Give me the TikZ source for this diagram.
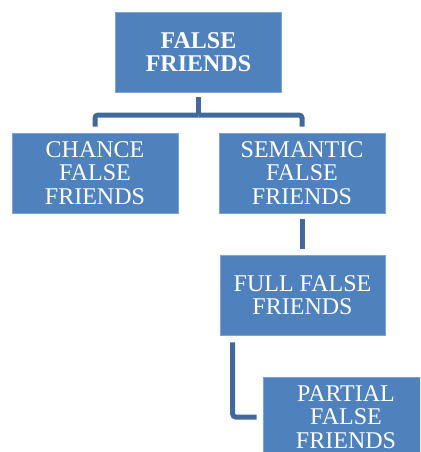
\documentclass[tikz,border=0pt]{standalone}
\usepackage{fontspec}
\setmainfont{Liberation Serif}
\definecolor{boxblue}{HTML}{4F81BD}
\definecolor{boxedge}{HTML}{7FA4D3}
\definecolor{connblue}{HTML}{41699E}
\begin{document}
\begin{tikzpicture}[x=1pt,y=-1pt,
  fbox/.style={fill=boxblue,draw=boxedge,line width=0.6pt,minimum width=166pt,minimum height=80pt,
    inner sep=0pt,align=center,text=white,font=\fontsize{24}{23.5}\selectfont},
  conn/.style={draw=connblue,line width=5pt,rounded corners=3pt}]
\useasboundingbox (0,0) rectangle (420,452);
\clip (0,0) rectangle (420,452);
\fill[white] (0,0) rectangle (420,452);
\node[fbox,font=\fontsize{24}{23.5}\selectfont\bfseries] (top) at (198.5,52) {FALSE\\FRIENDS};
\node[fbox] (chance) at (95,173) {CHANCE\\FALSE\\FRIENDS};
\node[fbox] (sem) at (302,173) {SEMANTIC\\FALSE\\FRIENDS};
\node[fbox,minimum width=165pt] (full) at (302.5,295) {FULL FALSE\\FRIENDS};
\node[fbox] (partial) at (346,417) {PARTIAL\\FALSE\\FRIENDS};
\coordinate (jn) at (top.south |- 0,115);
\draw[conn,shorten <=5pt] (top.south) -- (jn);
\draw[conn,shorten >=6pt] (jn) -| (chance.north);
\draw[conn,shorten >=6pt] (jn) -| (sem.north);
\draw[conn,shorten <=6pt,shorten >=6pt] (sem.south) -- (sem.south |- full.north);
\draw[conn,shorten <=7pt,shorten >=6pt] ([xshift=13pt]full.south west) |- (partial.west);
\end{tikzpicture}
\end{document}
